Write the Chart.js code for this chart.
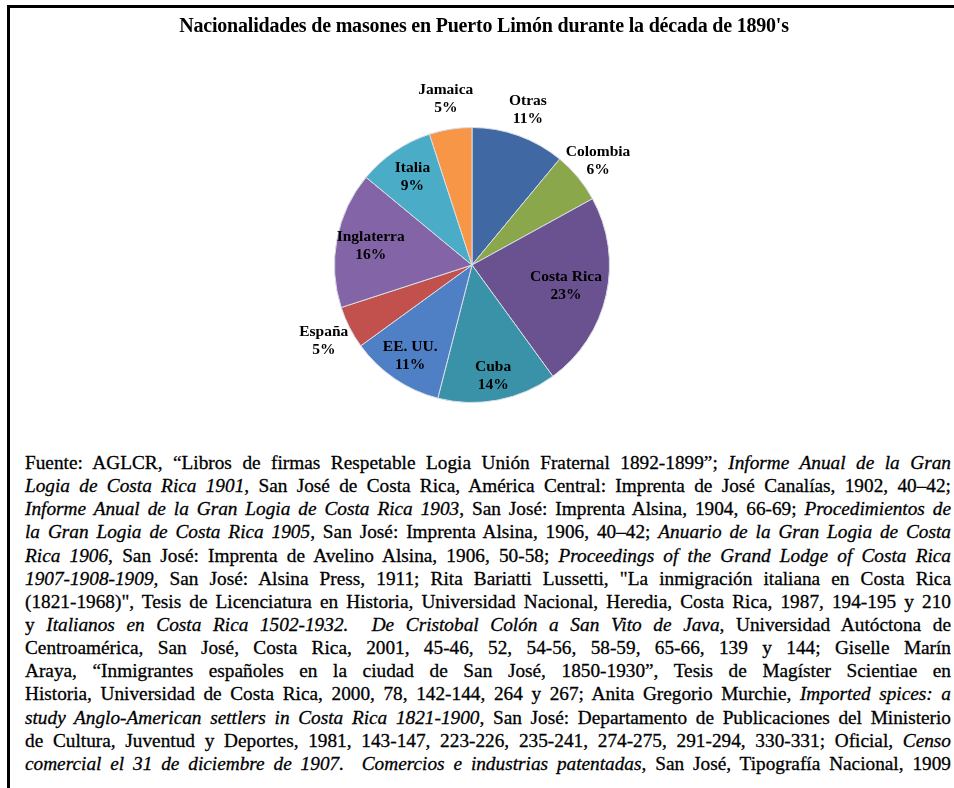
<!DOCTYPE html>
<html>
<head>
<meta charset="utf-8">
<script src="https://cdn.jsdelivr.net/npm/chart.js@4"></script>
<style>
  body { margin: 0; background: #fff; width: 954px; height: 788px; overflow: hidden; position: relative; }
  #frame { position: absolute; left: 7px; top: 5px; right: -10px; bottom: -10px; border-top: 3px solid #000; border-left: 3px solid #000; }
  #title { position: absolute; top: 14px; left: 0; width: 968px; text-align: center; font: bold 20px "Times New Roman", "Liberation Serif", "DejaVu Serif", serif; color: #000; letter-spacing: -0.2px; }
  #chartBox { position: absolute; left: 0; top: 0; width: 954px; height: 440px; }
  #source { position: absolute; left: 25px; top: 451px; width: 926px; font-family: "Times New Roman", "Liberation Serif", "DejaVu Serif", serif; font-size: 19.3px; color: #000; -webkit-text-stroke: 0.3px #000; }
  #source i { font-family: "Times New Roman", "Liberation Serif", "DejaVu Serif", serif; font-style: italic; }
  #source div { height: 23.15px; line-height: 23px; text-align: justify; text-align-last: justify; white-space: nowrap; }
</style>
</head>
<body>
<div id="frame"></div>
<div id="chartBox"><canvas id="pieChart"></canvas></div>
<div id="title">Nacionalidades de masones en Puerto Limón durante la década de 1890's</div>
<div id="source">
<div>Fuente: AGLCR, “Libros de firmas Respetable Logia Unión Fraternal 1892-1899”; <i>Informe Anual de la Gran</i></div>
<div><i>Logia de Costa Rica 1901</i>, San José de Costa Rica, América Central: Imprenta de José Canalías, 1902, 40–42;</div>
<div><i>Informe Anual de la Gran Logia de Costa Rica 1903</i>, San José: Imprenta Alsina, 1904, 66-69; <i>Procedimientos de</i></div>
<div><i>la Gran Logia de Costa Rica 1905</i>, San José: Imprenta Alsina, 1906, 40–42; <i>Anuario de la Gran Logia de Costa</i></div>
<div><i>Rica 1906</i>, San José: Imprenta de Avelino Alsina, 1906, 50-58; <i>Proceedings of the Grand Lodge of Costa Rica</i></div>
<div><i>1907-1908-1909,</i> San José: Alsina Press, 1911; Rita Bariatti Lussetti, "La inmigración italiana en Costa Rica</div>
<div>(1821-1968)", Tesis de Licenciatura en Historia, Universidad Nacional, Heredia, Costa Rica, 1987, 194-195 y 210</div>
<div>y <i>Italianos en Costa Rica 1502-1932.&nbsp; De Cristobal Colón a San Vito de Java</i>, Universidad Autóctona de</div>
<div>Centroamérica, San José, Costa Rica, 2001, 45-46, 52, 54-56, 58-59, 65-66, 139 y 144; Giselle Marín</div>
<div>Araya, “Inmigrantes españoles en la ciudad de San José, 1850-1930”, Tesis de Magíster Scientiae en</div>
<div>Historia, Universidad de Costa Rica, 2000, 78, 142-144, 264 y 267; Anita Gregorio Murchie, <i>Imported spices: a</i></div>
<div><i>study Anglo-American settlers in Costa Rica 1821-1900</i>, San José: Departamento de Publicaciones del Ministerio</div>
<div>de Cultura, Juventud y Deportes, 1981, 143-147, 223-226, 235-241, 274-275, 291-294, 330-331; Oficial, <i>Censo</i></div>
<div><i>comercial el 31 de diciembre de 1907.&nbsp; Comercios e industrias patentadas</i>, San José, Tipografía Nacional, 1909</div>
</div>
<script>
// nationalities, clockwise from 12 o'clock
const nationalities = [
  "Otras",
  "Colombia",
  "Costa Rica",
  "Cuba",
  "EE. UU.",
  "España",
  "Inglaterra",
  "Italia",
  "Jamaica",
];

const percentages = [11, 6, 23, 14, 11, 5, 16, 9, 5];

const slice_colors = [
  "#4069a3",
  "#8aa74c",
  "#6a5190",
  "#3a92a8",
  "#4f7fc4",
  "#c2504d",
  "#8365a7",
  "#4aacc6",
  "#f79646",
];

// how far from the centre each label sits (fraction of radius)
const label_radius = [1.2, 1.19, 0.7, 0.82, 0.8, 1.21, 0.75, 0.77, 1.22];

// draws "name / xx%" labels on each slice
const sliceLabels = {
  id: "sliceLabels",
  afterDatasetsDraw(chart) {
    const ctx = chart.ctx;
    const meta = chart.getDatasetMeta(0);
    ctx.save();
    ctx.font = "bold 15.5px 'Times New Roman', 'Liberation Serif', serif";
    ctx.fillStyle = "#000";
    ctx.textAlign = "center";
    ctx.textBaseline = "middle";
    meta.data.forEach((arc, i) => {
      const mid = (arc.startAngle + arc.endAngle) / 2;
      const r = arc.outerRadius * label_radius[i];
      const x = arc.x + Math.cos(mid) * r;
      const y = arc.y + Math.sin(mid) * r;
      ctx.fillText(chart.data.labels[i], x, y - 9);
      ctx.fillText(chart.data.datasets[0].data[i] + "%", x, y + 9);
    });
    ctx.restore();
  },
};

const ctx = document.getElementById("pieChart");
new Chart(ctx, {
  type: "pie",
  data: {
    labels: nationalities,
    datasets: [
      {
        data: percentages,
        backgroundColor: slice_colors,
        borderColor: "#d8dde6",
        borderWidth: 1,
      },
    ],
  },
  options: {
    responsive: true,
    maintainAspectRatio: false,
    animation: false,
    layout: { padding: { top: 127, bottom: 37, left: 0, right: 10 } },
    plugins: {
      legend: { display: false },
      tooltip: { enabled: false },
      title: { display: false },
    },
  },
  plugins: [sliceLabels],
});
</script>
</body>
</html>
